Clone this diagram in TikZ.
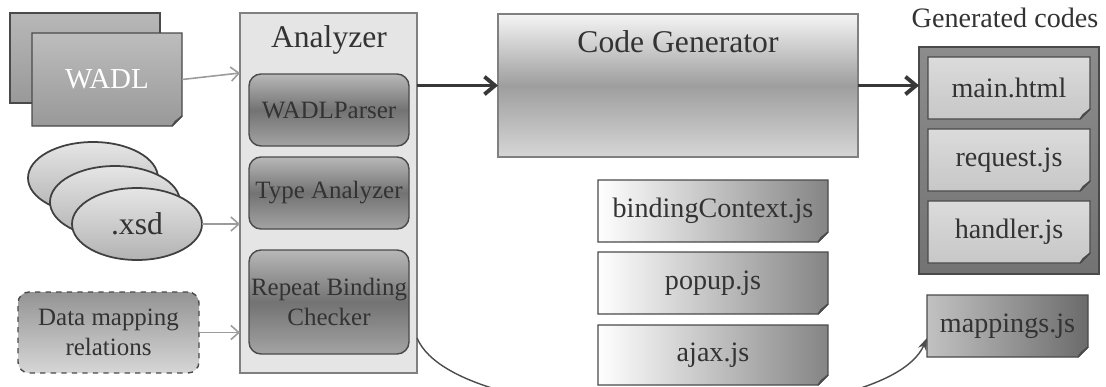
\documentclass[tikz,border=0pt]{standalone}
\usepackage{fontspec}
\setmainfont{Liberation Serif}
\usetikzlibrary{arrows.meta,shapes.geometric}

\definecolor{ink}{HTML}{333333}
\definecolor{edge}{HTML}{4a4a4a}
\definecolor{softedge}{HTML}{808080}
\definecolor{thinline}{HTML}{9c9c9c}

\tikzset{
  sz/.style args={#1x#2}{minimum width=#1*0.02cm, minimum height=#2*0.02cm},
  plain/.style={inner sep=0pt, outer sep=0pt},
  bigtext/.style={font=\fontsize{18}{21}\selectfont, text=ink},
  midtext/.style={font=\fontsize{14.2}{17}\selectfont, text=ink, align=center},
  filetext/.style={font=\fontsize{16}{19}\selectfont, text=ink},
  innerbox/.style={plain, draw=edge, line width=0.8pt, rounded corners=0.24cm,
    top color=black!28, bottom color=black!36, middle color=black!55},
  feed/.style={draw=thinline, line width=0.9pt, -{Straight Barb[length=4.5pt,width=8pt]}},
  flow/.style={draw=black!78, line width=2.2pt, -{Straight Barb[length=6pt,width=10pt]}},
  linkcurve/.style={draw=black!70, line width=0.8pt, -{Stealth[length=7pt,width=5pt]}},
  xsdshape/.style={ellipse, plain, draw=black!75, line width=1pt, sz=130x72,
    top color=black!10, bottom color=black!30},
}

% page with a folded bottom-right corner
% #1 name, #2 centre, #3 size, #4 shading, #5 text style, #6 text
\newcommand\docnode[6]{%
  \node[plain, sz=#3] (#1) at (#2) {};
  \shadedraw[draw=edge, line width=0.8pt, #4]
    (#1.north west) -- (#1.north east) -- ([yshift=0.2cm]#1.south east)
    -- ([xshift=-0.2cm]#1.south east) -- (#1.south west) -- cycle;
  \filldraw[draw=edge, fill=black!45, line width=0.6pt]
    ([yshift=0.2cm]#1.south east) -- ([xshift=-0.14cm,yshift=0.09cm]#1.south east)
    -- ([xshift=-0.2cm]#1.south east) -- cycle;
  \node[#5] (#1-label) at (#1) {#6};
}

\begin{document}
\begin{tikzpicture}[x=0.02cm, y=-0.02cm]
  \fill[white] (0,0) rectangle (1106,386);
  \useasboundingbox (0,0) rectangle (1106,386);

  % ---- inputs ----
  \node[plain, sz=150x90, draw=edge, line width=0.8pt,
        top color=black!28, bottom color=black!40] (wadlback) at (85,58) {};
  \docnode{wadl}{107,79.5}{150x93}{top color=black!26, bottom color=black!40}
    {font=\fontsize{16.5}{19}\selectfont, text=white}{WADL}

  \node[xsdshape] (xsd1) at (93,178) {};
  \node[xsdshape] (xsd2) at (115,202) {};
  \node[xsdshape, bigtext] (xsd3) at (137,224) {.xsd};

  \node[plain, sz=181x81, draw=edge, line width=0.8pt, dashed, rounded corners=0.22cm,
        top color=black!42, bottom color=black!16, midtext] (dmr) at (108.5,332.5)
        {Data mapping\\relations};

  % ---- analyzer ----
  \node[plain, sz=177x360, draw=softedge, line width=0.8pt, fill=black!10] (analyzer) at (328.5,193) {};
  \node[bigtext] (analyzer-title) at (329,40) {Analyzer};
  \node[innerbox, sz=160x72, midtext] (parser) at (329,110) {WADLParser};
  \node[innerbox, sz=160x72, midtext] (typean) at (329,193) {Type Analyzer};
  \node[innerbox, sz=160x104, midtext] (checker) at (329,302) {Repeat Binding\\Checker};

  % ---- code generator ----
  \node[plain, sz=360x143, draw=softedge, line width=0.8pt,
        top color=black!4, bottom color=black!16, middle color=black!38] (codegen) at (678,85.5) {};
  \node[bigtext] (codegen-title) at (678,42) {Code Generator};

  % ---- library files ----
  \docnode{bctx}{713,211}{230x62}{left color=white, right color=black!48}{filetext}{bindingContext.js}
  \docnode{popup}{713,283}{230x62}{left color=white, right color=black!48}{filetext}{popup.js}
  \docnode{ajax}{713,355}{230x60}{left color=white, right color=black!48}{filetext}{ajax.js}

  % ---- generated codes ----
  \node[filetext] (gen-title) at (1005,18) {Generated codes};
  \node[plain, sz=180x227, draw=edge, line width=0.8pt,
        top color=black!45, bottom color=black!55] (gencodes) at (1009,160.5) {};
  \docnode{mainh}{1009,88}{162x62}{top color=black!14, bottom color=black!22}{filetext}{main.html}
  \docnode{request}{1009,160}{162x62}{top color=black!14, bottom color=black!22}{filetext}{request.js}
  \docnode{handler}{1009,232}{162x62}{top color=black!14, bottom color=black!22}{filetext}{handler.js}

  \docnode{mappings}{1007.5,326}{161x62}{left color=black!24, right color=black!58}{filetext}{mappings.js}

  % ---- connectors ----
  \coordinate (wadl-in) at (analyzer.west |- 0,73);
  \draw[feed] (wadl.east) -- (wadl-in);
  \draw[feed] (xsd3.east) -- (xsd3.east -| analyzer.west);
  \draw[feed] (dmr.east) -- (dmr.east -| analyzer.west);

  \draw[flow] (analyzer.east |- codegen.west) -- (codegen.west);
  \draw[flow] (codegen.east) -- (codegen.east -| gencodes.west);

  \begin{scope}
    \clip (0,0) rectangle (1106,386);
    \draw[linkcurve] (analyzer.east |- 0,338)
      .. controls (458,435) and (885,435) .. ([yshift=-0.24cm]mappings.west);
  \end{scope}
\end{tikzpicture}
\end{document}
